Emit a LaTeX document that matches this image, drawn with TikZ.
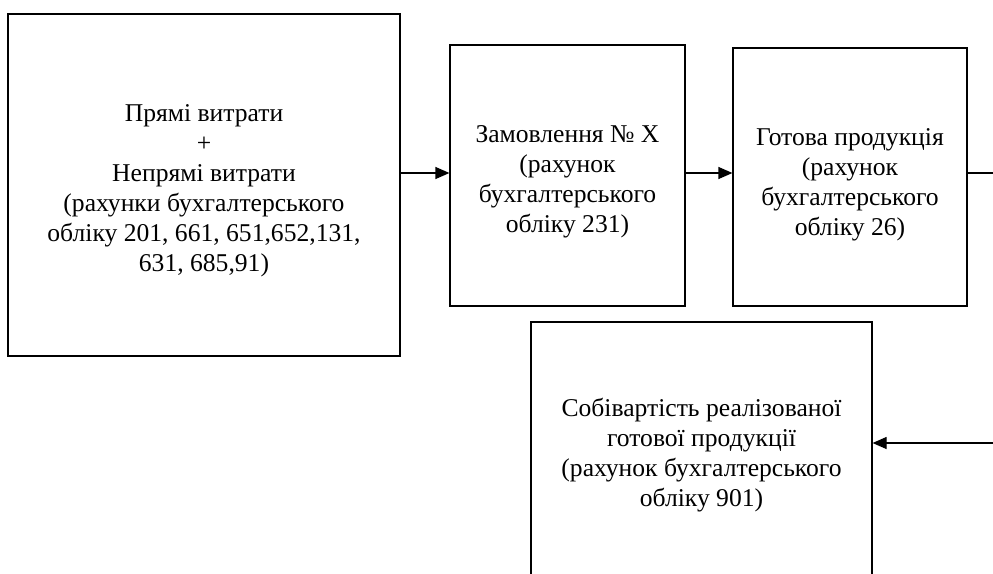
\documentclass[tikz,border=0pt]{standalone}
\usepackage{fontspec}
\setmainfont{Liberation Serif}
\usetikzlibrary{arrows.meta}

\tikzset{
    blok/.style={draw, line width=0.6pt, inner sep=0pt},
    tekst/.style={align=center, inner sep=0pt, font=\fontsize{12.8}{15}\selectfont},
    strilka/.style={line width=0.6pt, -{Triangle[length=7pt, width=6pt]}}
}

\begin{document}
\begin{tikzpicture}[x=0.5pt, y=-0.5pt]
    \useasboundingbox (0, 0) rectangle (993, 574) ;
    \clip (0, 0) rectangle (993, 574) ;
    \node[blok, minimum width=196pt, minimum height=171pt] (vytraty) at (204, 185) {} ;
    \node[blok, minimum width=117.5pt, minimum height=130.5pt] (zamovl) at (567.5, 175.5) {} ;
    \node[blok, minimum width=117pt, minimum height=129pt] (gotova) at (850, 177) {} ;
    \node[blok, minimum width=170.5pt, minimum height=133pt] (sobiv) at (701.5, 455) {} ;
    \node[tekst] (vytraty-t) at ([yshift=-3pt]vytraty.center)
        {Прямі витрати\\+\\Непрямі витрати\\(рахунки бухгалтерського\\обліку 201, 661, 651,652,131,\\631, 685,91)} ;
    \node[tekst] (zamovl-t) at ([yshift=-3pt]zamovl.center)
        {Замовлення № Х\\(рахунок\\бухгалтерського\\обліку 231)} ;
    \node[tekst] (gotova-t) at ([yshift=-4pt]gotova.center)
        {Готова продукція\\(рахунок\\бухгалтерського\\обліку 26)} ;
    \node[tekst] (sobiv-t) at (sobiv.center)
        {Собівартість реалізованої\\готової продукції\\(рахунок бухгалтерського\\обліку 901)} ;
    \coordinate (vyhid) at (1000, 173) ;
    \coordinate (vhid) at (1000, 443) ;
%    \draw (gotova.south) -- (sobiv.north) ;
    \draw[strilka] (vytraty.east |- 0, 173) -- (zamovl.west |- 0, 173) ;
    \draw[strilka] (zamovl.east |- 0, 173) -- (gotova.west |- 0, 173) ;
    \draw[line width=0.6pt] (gotova.east |- vyhid) -- (vyhid) ;
    \draw[strilka] (vhid) -- (sobiv.east |- vhid) ;
\end{tikzpicture}
\end{document}
